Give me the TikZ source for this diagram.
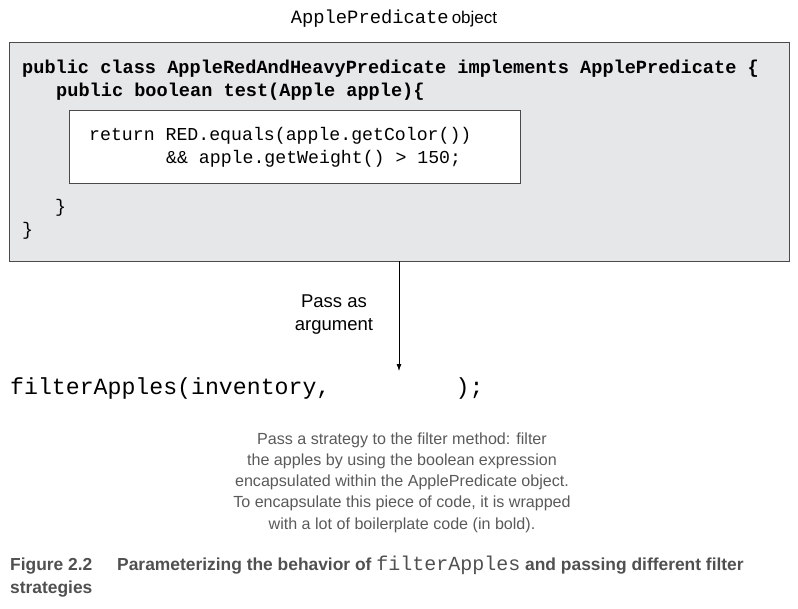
\documentclass[tikz,border=0pt]{standalone}
\usepackage{fontspec}
\setmainfont{Liberation Sans}
\setmonofont{Liberation Mono}
\usetikzlibrary{arrows.meta}
\definecolor{boxgrey}{HTML}{E6E7E8}
\definecolor{edgegrey}{HTML}{4A4A4A}
\definecolor{descgrey}{HTML}{5A5A5A}
\definecolor{capgrey}{HTML}{505050}
\tikzset{
  codeb/.style={anchor=base west, inner sep=0pt, font=\fontsize{18.6}{22}\selectfont\ttfamily\bfseries},
  code/.style={anchor=base west, inner sep=0pt, font=\fontsize{18.2}{22}\selectfont\ttfamily},
  passlbl/.style={align=center, inner sep=0pt, font=\fontsize{18.5}{23}\selectfont\rmfamily},
  desc/.style={align=center, inner sep=0pt, text=descgrey, font=\fontsize{16.1}{21.25}\selectfont\rmfamily},
  captext/.style={anchor=base west, inner sep=0pt, text=capgrey, font=\fontsize{17.4}{22}\selectfont\rmfamily\bfseries},
}
\begin{document}
\begin{tikzpicture}[x=1pt,y=-1pt]
\useasboundingbox (0,0) rectangle (798,608);
% title
\node[anchor=base, inner sep=0pt] (title) at (394,23) {\fontsize{18.8}{20}\selectfont\ttfamily ApplePredicate\hspace{3pt}\fontsize{17}{20}\rmfamily object};
% outer box
\draw[edgegrey, fill=boxgrey, line width=0.9pt] (9,42) rectangle (789,261);
\coordinate (outbot) at (399,261);
% inner box
\draw[edgegrey, fill=white, line width=0.9pt] (69,110) rectangle (520,183);
% code
\node[codeb] (l1) at (22,73) {public class AppleRedAndHeavyPredicate implements ApplePredicate \{};
\node[codeb] (l2) at (56,96) {public boolean test(Apple apple)\{};
\node[code] (r1) at (89,140) {return RED.equals(apple.getColor())};
\node[code] (r2) at (166,163) {\&\& apple.getWeight() > 150;};
\node[code] (b1) at (55,212) {\}};
\node[code] (b2) at (22,235) {\}};
% call
\node[anchor=base west, inner sep=0pt, font=\fontsize{23.2}{26}\selectfont\ttfamily] (call) at (10,394) {filterApples(inventory,\ \ \ \ \ \ \ \ \ );};
\coordinate (arrend) at (399,371);
\draw[line width=0.8pt, -{Latex[length=7pt,width=5pt]}] (outbot) -- (arrend);
\node[passlbl, anchor=base] (pass) at (334,330) {Pass as\\argument};
% description
\node[desc, anchor=base] (desc) at (402,529) {Pass a strategy to the filter method: filter\\the apples by using the boolean expression\\encapsulated within the ApplePredicate object.\\To encapsulate this piece of code, it is wrapped\\with a lot of boilerplate code (in bold).};
% caption
\node[captext] (fig) at (10,570) {Figure 2.2};
\node[captext] (capt) at (117,570) {Parameterizing the behavior of {\mdseries\ttfamily\fontsize{20}{22}\selectfont filterApples} and passing different filter};
\node[captext] (capt2) at (10,593) {strategies};
\end{tikzpicture}
\end{document}
